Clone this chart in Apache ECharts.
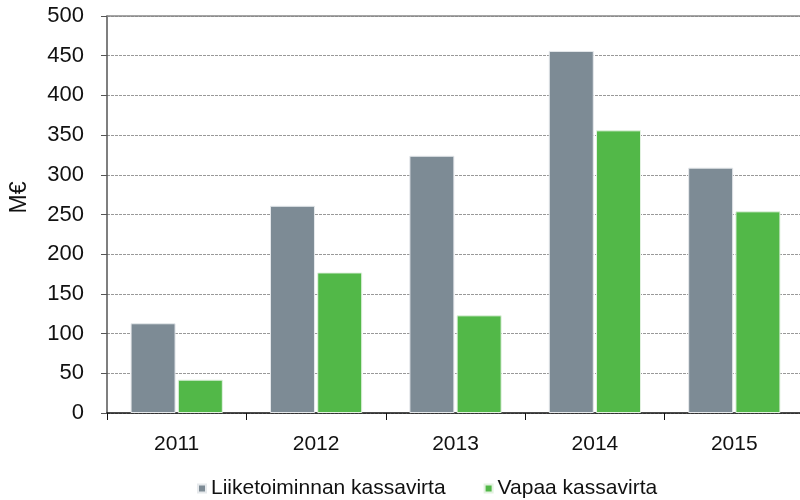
<!DOCTYPE html>
<html>
<head>
<meta charset="utf-8">
<script src="https://cdn.jsdelivr.net/npm/echarts@6/dist/echarts.min.js"></script>
<style>html,body{margin:0;padding:0;background:#fff}#c{width:800px;height:500px}</style>
</head>
<body>
<div id="c"></div>
<script>
const categories = ['2011', '2012', '2013', '2014', '2015'];
const operatingCashFlow = [113, 261, 324, 456, 309];
const freeCashFlow = [42, 177, 123, 356, 254];
const seriesNames = ['Liiketoiminnan kassavirta', 'Vapaa kassavirta'];
const yAxisName = 'M€';

const chart = echarts.init(document.getElementById('c'));
const font = 'Liberation Sans, Arial, sans-serif';
chart.setOption({
  animation: false,
  grid: {
    left: 107, top: 16, width: 697, bottom: 87,
    outerBoundsMode: 'none',
    containLabel: false
  },
  legend: {
    data: seriesNames,
    bottom: -4,
    left: 192,
    itemWidth: 8, itemHeight: 8,
    itemGap: 38,
    icon: 'rect',
    textStyle: { fontFamily: font, fontSize: 21, color: '#111' }
  },
  xAxis: [{
    type: 'category',
    data: categories,
    axisLine: { lineStyle: { color: '#111', width: 1.5 } },
    axisTick: { show: true, length: 7, lineStyle: { color: '#111' } },
    axisLabel: { fontFamily: font, fontSize: 21, color: '#111', margin: 21 },
    splitLine: { show: false }
  }, {
    type: 'category',
    data: categories,
    position: 'top',
    axisLine: { show: true, lineStyle: { color: '#888', width: 1.5 } },
    axisTick: { show: false },
    axisLabel: { show: false },
    splitLine: { show: false }
  }],
  yAxis: {
    type: 'value',
    min: 0, max: 500, interval: 50,
    name: yAxisName,
    nameLocation: 'middle',
    nameGap: 76,
    nameTextStyle: { fontFamily: font, fontSize: 23, color: '#111', padding: [0, 0, 0, 34] },
    axisLine: { show: true, lineStyle: { color: '#555', width: 1.5 } },
    axisTick: { show: true, length: 6, lineStyle: { color: '#555' } },
    axisLabel: { fontFamily: font, fontSize: 22, color: '#111', margin: 23 },
    splitLine: { show: true, lineStyle: { color: '#999', type: [3, 1], width: 1 } }
  },
  series: [
    {
      name: seriesNames[0], type: 'bar', data: operatingCashFlow,
      barWidth: 45, barGap: '5%',
      itemStyle: { color: '#7D8B95', borderColor: '#e6e9ec', borderWidth: 1 }
    },
    {
      name: seriesNames[1], type: 'bar', data: freeCashFlow,
      barWidth: 45, barGap: '5%',
      itemStyle: { color: '#52B848', borderColor: '#e3f2e1', borderWidth: 1 }
    }
  ]
});
</script>
</body>
</html>
